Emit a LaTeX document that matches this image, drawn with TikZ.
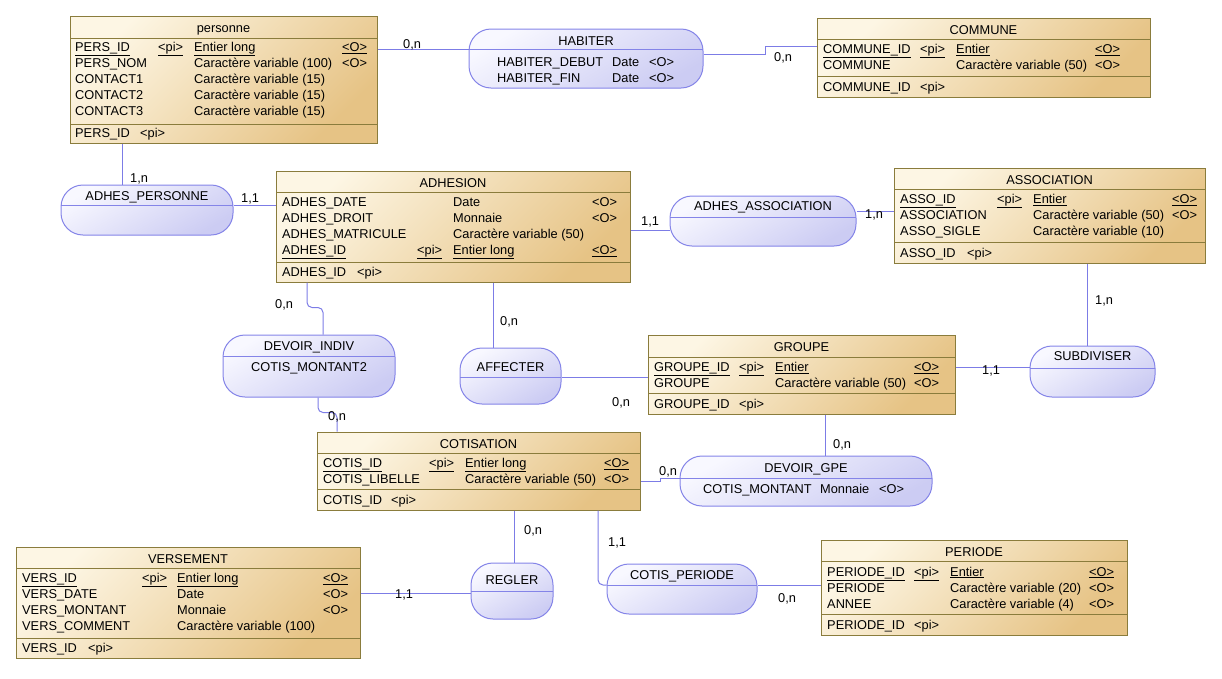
\documentclass[tikz,border=0pt]{standalone}
\usepackage{fontspec}
\setmainfont{Liberation Sans}
\usetikzlibrary{fit}

\definecolor{entClair}{HTML}{FDF6E4}
\definecolor{entFonce}{HTML}{E6C385}
\definecolor{entBord}{HTML}{8A7C3C}
\definecolor{assClair}{HTML}{F8F8FF}
\definecolor{assFonce}{HTML}{CCCCF3}
\definecolor{assBord}{HTML}{8484E8}
\definecolor{lienCol}{HTML}{7C7CE6}

\tikzset{
  entite/.style={draw=entBord, line width=1pt, top color=entClair, bottom color=entFonce, shading angle=45, inner sep=0pt},
  assoc/.style={draw=assBord, line width=1pt, rounded corners=22pt, top color=assClair, bottom color=assFonce, shading angle=30, inner sep=0pt},
  sepent/.style={draw=entBord, line width=1pt},
  sepass/.style={draw=assBord, line width=1pt},
  lien/.style={draw=lienCol, line width=1pt, rounded corners=5pt},
  txt/.style={anchor=base west, inner sep=0pt, font=\fontsize{12.8}{14}\selectfont},
  titre/.style={anchor=base, inner sep=0pt, font=\fontsize{12.8}{14}\selectfont},
  card/.style={anchor=base west, inner sep=0pt, font=\fontsize{12.8}{14}\selectfont},
}

\begin{document}
\begin{tikzpicture}[x=1pt, y=-1pt]
\useasboundingbox (0,0) rectangle (1222,678);

% ---------- entites ----------
% personne
\node[entite, fit={(70,16) (377,143)}] (personne) {};
\draw[sepent] (70,38) -- (377,38);
\draw[sepent] (70,124) -- (377,124);
\node[titre] at (223.5,32.5) {personne};
\node[txt] at (75,51.5) {\underline{PERS\_ID}};
\node[txt] at (158,51.5) {\underline{<pi>}};
\node[txt] at (194,51.5) {\underline{Entier long}};
\node[txt] at (342,51.5) {\underline{<O>}};
\node[txt] at (75,67.5) {PERS\_NOM};
\node[txt] at (194,67.5) {Caractère variable (100)};
\node[txt] at (342,67.5) {<O>};
\node[txt] at (75,83.5) {CONTACT1};
\node[txt] at (194,83.5) {Caractère variable (15)};
\node[txt] at (75,99.5) {CONTACT2};
\node[txt] at (194,99.5) {Caractère variable (15)};
\node[txt] at (75,115.5) {CONTACT3};
\node[txt] at (194,115.5) {Caractère variable (15)};
\node[txt] at (75,137.5) {PERS\_ID};
\node[txt] at (140,137.5) {<pi>};

% COMMUNE
\node[entite, fit={(817,18) (1150,97)}] (commune) {};
\draw[sepent] (817,39) -- (1150,39);
\draw[sepent] (817,76) -- (1150,76);
\node[titre] at (983.5,34) {COMMUNE};
\node[txt] at (823,53.5) {\underline{COMMUNE\_ID}};
\node[txt] at (920,53.5) {\underline{<pi>}};
\node[txt] at (956,53.5) {\underline{Entier}};
\node[txt] at (1095,53.5) {\underline{<O>}};
\node[txt] at (823,69.5) {COMMUNE};
\node[txt] at (956,69.5) {Caractère variable (50)};
\node[txt] at (1095,69.5) {<O>};
\node[txt] at (823,91) {COMMUNE\_ID};
\node[txt] at (920,91) {<pi>};

% ADHESION
\node[entite, fit={(276,171) (630,282)}] (adhesion) {};
\draw[sepent] (276,192) -- (630,192);
\draw[sepent] (276,262) -- (630,262);
\node[titre] at (453,187) {ADHESION};
\node[txt] at (282,206.5) {ADHES\_DATE};
\node[txt] at (453,206.5) {Date};
\node[txt] at (592,206.5) {<O>};
\node[txt] at (282,222.5) {ADHES\_DROIT};
\node[txt] at (453,222.5) {Monnaie};
\node[txt] at (592,222.5) {<O>};
\node[txt] at (282,238.5) {ADHES\_MATRICULE};
\node[txt] at (453,238.5) {Caractère variable (50)};
\node[txt] at (282,254.5) {\underline{ADHES\_ID}};
\node[txt] at (417,254.5) {\underline{<pi>}};
\node[txt] at (453,254.5) {\underline{Entier long}};
\node[txt] at (592,254.5) {\underline{<O>}};
\node[txt] at (282,276) {ADHES\_ID};
\node[txt] at (357,276) {<pi>};

% ASSOCIATION
\node[entite, fit={(894,168) (1205,263)}] (association) {};
\draw[sepent] (894,189) -- (1205,189);
\draw[sepent] (894,242) -- (1205,242);
\node[titre] at (1049.5,184) {ASSOCIATION};
\node[txt] at (900,203.5) {\underline{ASSO\_ID}};
\node[txt] at (997,203.5) {\underline{<pi>}};
\node[txt] at (1033,203.5) {\underline{Entier}};
\node[txt] at (1172,203.5) {\underline{<O>}};
\node[txt] at (900,219.5) {ASSOCIATION};
\node[txt] at (1033,219.5) {Caractère variable (50)};
\node[txt] at (1172,219.5) {<O>};
\node[txt] at (900,235.5) {ASSO\_SIGLE};
\node[txt] at (1033,235.5) {Caractère variable (10)};
\node[txt] at (900,257) {ASSO\_ID};
\node[txt] at (967,257) {<pi>};

% GROUPE
\node[entite, fit={(648,335) (955,414)}] (groupe) {};
\draw[sepent] (648,357) -- (955,357);
\draw[sepent] (648,393) -- (955,393);
\node[titre] at (801.5,351.5) {GROUPE};
\node[txt] at (654,371.5) {\underline{GROUPE\_ID}};
\node[txt] at (739,371.5) {\underline{<pi>}};
\node[txt] at (775,371.5) {\underline{Entier}};
\node[txt] at (914,371.5) {\underline{<O>}};
\node[txt] at (654,387.5) {GROUPE};
\node[txt] at (775,387.5) {Caractère variable (50)};
\node[txt] at (914,387.5) {<O>};
\node[txt] at (654,408.5) {GROUPE\_ID};
\node[txt] at (739,408.5) {<pi>};

% COTISATION
\node[entite, fit={(317,432) (640,510)}] (cotisation) {};
\draw[sepent] (317,453) -- (640,453);
\draw[sepent] (317,489) -- (640,489);
\node[titre] at (478.5,448) {COTISATION};
\node[txt] at (323,467.5) {\underline{COTIS\_ID}};
\node[txt] at (429,467.5) {\underline{<pi>}};
\node[txt] at (465,467.5) {\underline{Entier long}};
\node[txt] at (604,467.5) {\underline{<O>}};
\node[txt] at (323,483.5) {COTIS\_LIBELLE};
\node[txt] at (465,483.5) {Caractère variable (50)};
\node[txt] at (604,483.5) {<O>};
\node[txt] at (323,504.5) {COTIS\_ID};
\node[txt] at (391,504.5) {<pi>};

% VERSEMENT
\node[entite, fit={(16,547) (360,658)}] (versement) {};
\draw[sepent] (16,568) -- (360,568);
\draw[sepent] (16,638) -- (360,638);
\node[titre] at (188,563) {VERSEMENT};
\node[txt] at (22,582.5) {\underline{VERS\_ID}};
\node[txt] at (142,582.5) {\underline{<pi>}};
\node[txt] at (177,582.5) {\underline{Entier long}};
\node[txt] at (323,582.5) {\underline{<O>}};
\node[txt] at (22,598.5) {VERS\_DATE};
\node[txt] at (177,598.5) {Date};
\node[txt] at (323,598.5) {<O>};
\node[txt] at (22,614.5) {VERS\_MONTANT};
\node[txt] at (177,614.5) {Monnaie};
\node[txt] at (323,614.5) {<O>};
\node[txt] at (22,630.5) {VERS\_COMMENT};
\node[txt] at (177,630.5) {Caractère variable (100)};
\node[txt] at (22,652) {VERS\_ID};
\node[txt] at (88,652) {<pi>};

% PERIODE
\node[entite, fit={(821,540) (1127,635)}] (periode) {};
\draw[sepent] (821,561) -- (1127,561);
\draw[sepent] (821,614) -- (1127,614);
\node[titre] at (974,556) {PERIODE};
\node[txt] at (827,576) {\underline{PERIODE\_ID}};
\node[txt] at (914,576) {\underline{<pi>}};
\node[txt] at (950,576) {\underline{Entier}};
\node[txt] at (1089,576) {\underline{<O>}};
\node[txt] at (827,592) {PERIODE};
\node[txt] at (950,592) {Caractère variable (20)};
\node[txt] at (1089,592) {<O>};
\node[txt] at (827,608) {ANNEE};
\node[txt] at (950,608) {Caractère variable (4)};
\node[txt] at (1089,608) {<O>};
\node[txt] at (827,629) {PERIODE\_ID};
\node[txt] at (914,629) {<pi>};

% ---------- associations ----------
\node[assoc, fit={(469,29) (703,88)}] (habiter) {};
\draw[sepass] (469,49) -- (703,49);
\node[titre] at (586,45) {HABITER};
\node[txt] at (497,66.5) {HABITER\_DEBUT};
\node[txt] at (612,66.5) {Date};
\node[txt] at (649,66.5) {<O>};
\node[txt] at (497,82) {HABITER\_FIN};
\node[txt] at (612,82) {Date};
\node[txt] at (649,82) {<O>};

\node[assoc, fit={(61,185) (233,235)}] (adhpers) {};
\draw[sepass] (61,205) -- (233,205);
\node[titre] at (147,200) {ADHES\_PERSONNE};

\node[assoc, fit={(670,196) (856,246)}] (adhasso) {};
\draw[sepass] (670,217) -- (856,217);
\node[titre] at (763,210.5) {ADHES\_ASSOCIATION};

\node[assoc, fit={(223,335) (395,397)}] (devindiv) {};
\draw[sepass] (223,356) -- (395,356);
\node[titre] at (309,350) {DEVOIR\_INDIV};
\node[txt] at (251,371.5) {COTIS\_MONTANT2};

\node[assoc, fit={(460,348) (561,404)}] (affecter) {};
\draw[sepass] (460,377) -- (561,377);
\node[titre] at (510.5,371) {AFFECTER};

\node[assoc, fit={(1030,346) (1155,397)}] (subdiviser) {};
\draw[sepass] (1030,368) -- (1155,368);
\node[titre] at (1092.5,360.5) {SUBDIVISER};

\node[assoc, fit={(680,456) (932,506)}] (devgpe) {};
\draw[sepass] (680,478) -- (932,478);
\node[titre] at (806,472) {DEVOIR\_GPE};
\node[txt] at (703,493) {COTIS\_MONTANT};
\node[txt] at (820,493) {Monnaie};
\node[txt] at (879,493) {<O>};

\node[assoc, fit={(607,564) (757,614)}] (cotisper) {};
\draw[sepass] (607,585) -- (757,585);
\node[titre] at (682,579.5) {COTIS\_PERIODE};

\node[assoc, fit={(471,563) (553,619)}] (regler) {};
\draw[sepass] (471,591) -- (553,591);
\node[titre] at (512,584.5) {REGLER};

% ---------- liens ----------
\draw[lien] ([yshift=30.5pt]personne.east) -- ([yshift=9.5pt]habiter.west);
\draw[lien, sharp corners] ([yshift=4.5pt]habiter.east) -- ++(62,0) |- ([yshift=11.5pt]commune.west);
\draw[lien] ([xshift=-101.5pt]personne.south) -- ([xshift=-25pt]adhpers.north);
\draw[lien] ([yshift=5pt]adhpers.east) -- ([yshift=21.5pt]adhesion.west);
\draw[lien] ([yshift=-3.5pt]adhesion.east) -- ([yshift=-9pt]adhasso.west);
\draw[lien] ([yshift=10pt]adhasso.east) -- ([yshift=4.5pt]association.west);
\draw[lien] ([xshift=-146pt]adhesion.south) -- ++(0,25) -| ([xshift=14pt]devindiv.north);
\draw[lien] ([xshift=9pt]devindiv.south) -- ++(0,15) -| ([xshift=-141.5pt]cotisation.north);
\draw[lien] ([xshift=40pt]adhesion.south) -- ([xshift=-17.5pt]affecter.north);
\draw[lien] ([yshift=-1pt]affecter.east) -- ([yshift=-2.5pt]groupe.west);
\draw[lien] ([yshift=7.5pt]groupe.east) -- ([yshift=4.5pt]subdiviser.west);
\draw[lien] ([xshift=37.5pt]association.south) -- ([xshift=-5.5pt]subdiviser.north);
\draw[lien] ([xshift=23.5pt]groupe.south) -- ([xshift=19pt]devgpe.north);
\draw[lien, sharp corners] ([yshift=-10pt]cotisation.east) -- ++(20,0) |- ([yshift=3pt]devgpe.west);
\draw[lien] ([xshift=119.5pt]cotisation.south) |- ([yshift=4pt]cotisper.west);
\draw[lien] ([yshift=4pt]cotisper.east) -- ([yshift=2.5pt]periode.west);
\draw[lien] ([xshift=35.5pt]cotisation.south) -- ([xshift=2pt]regler.north);
\draw[lien] ([yshift=9.5pt]versement.east) -- ([yshift=-2pt]regler.west);

% ---------- cardinalites ----------
\node[card] (c1) at (403,48) {0,n};
\node[card] (c2) at (774,61.5) {0,n};
\node[card] (c3) at (130,182) {1,n};
\node[card] (c4) at (241,202) {1,1};
\node[card] (c5) at (641,225) {1,1};
\node[card] (c6) at (865,218.5) {1,n};
\node[card] (c7) at (275,308) {0,n};
\node[card] (c8) at (328,420) {0,n};
\node[card] (c9) at (500,325) {0,n};
\node[card] (c10) at (612,406.5) {0,n};
\node[card] (c11) at (982,374.5) {1,1};
\node[card] (c12) at (1095,304.5) {1,n};
\node[card] (c13) at (833,448) {0,n};
\node[card] (c14) at (659,475) {0,n};
\node[card] (c15) at (608,546) {1,1};
\node[card] (c16) at (778,602) {0,n};
\node[card] (c17) at (524,534.5) {0,n};
\node[card] (c18) at (395,598.5) {1,1};

\end{tikzpicture}
\end{document}
